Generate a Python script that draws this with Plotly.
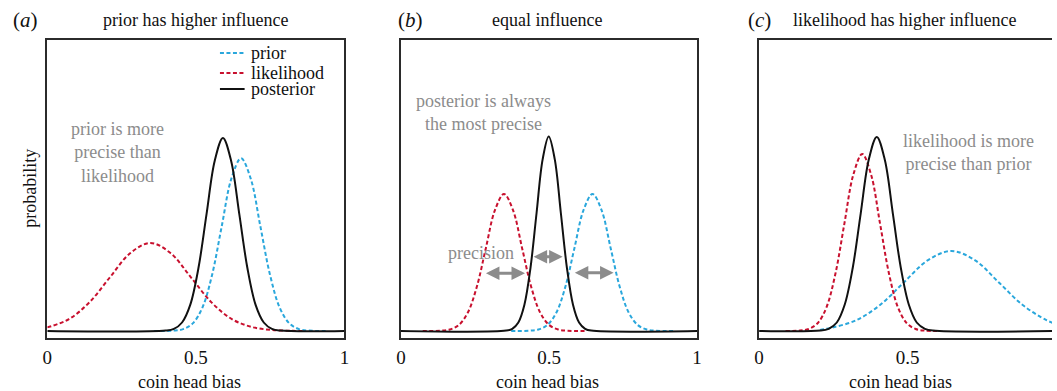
import plotly.graph_objects as go

# ---------------- data ----------------
TICK_VALS = [0, 0.5, 1]
TICK_TEXT = ["0", "0.5", "1"]

# panel (a): prior has higher influence
A_PRIOR_X = [0.3595, 0.4245, 0.457, 0.4895, 0.522, 0.5545, 0.587, 0.6195, 0.652,
             0.6845, 0.717, 0.7495, 0.782, 0.8145, 0.847, 0.8795, 0.9445]
A_PRIOR_Y = [0, 0.4, 1.9, 7.6, 23.4, 56.1, 104.7, 152.4, 172.7,
             152.4, 104.7, 56.1, 23.4, 7.6, 1.9, 0.4, 0]
A_LIK_X = [0, 0.073, 0.1415, 0.21, 0.2785, 0.347, 0.4155, 0.484, 0.5525,
           0.621, 0.6895, 0.758, 0.8265, 0.86]
A_LIK_Y = [3.6, 11.9, 28.6, 53.4, 77.7, 88, 77.7, 53.4, 28.6, 11.9, 3.9, 1.0, 0.2, 0]
A_POST_X = [0, 0.3985, 0.426, 0.4535, 0.481, 0.5085, 0.536, 0.5635, 0.591,
            0.6185, 0.646, 0.6735, 0.701, 0.7285, 0.756, 0.7835, 1]
A_POST_Y = [0, 0.4, 2.1, 8.5, 26.1, 62.7, 117.1, 170.3, 193,
            170.3, 117.1, 62.7, 26.1, 8.5, 2.1, 0.4, 0]

# panel (b): equal influence
B_PRIOR_X = [0.3725, 0.4335, 0.464, 0.4945, 0.525, 0.5555, 0.586, 0.6165, 0.647,
             0.6775, 0.708, 0.7385, 0.769, 0.7995, 0.83, 0.8605, 0.9215]
B_PRIOR_Y = [0, 0.3, 1.5, 6.0, 18.5, 44.5, 83.1, 120.9, 137,
             120.9, 83.1, 44.5, 18.5, 6.0, 1.5, 0.3, 0]
B_LIK_X = [0.0735, 0.1345, 0.165, 0.1955, 0.226, 0.2565, 0.287, 0.3175, 0.348,
           0.3785, 0.409, 0.4395, 0.47, 0.5005, 0.531, 0.5615, 0.6225]
B_LIK_Y = [0, 0.3, 1.5, 6.0, 18.5, 44.5, 83.1, 120.9, 137,
           120.9, 83.1, 44.5, 18.5, 6.0, 1.5, 0.3, 0]
B_POST_X = [0, 0.3555, 0.376, 0.3965, 0.417, 0.4375, 0.458, 0.4785, 0.499,
            0.5195, 0.54, 0.5605, 0.581, 0.6015, 0.622, 0.6425, 1]
B_POST_Y = [0, 0.4, 2.2, 8.5, 26.3, 63.2, 118.0, 171.6, 194.5,
            171.6, 118.0, 63.2, 26.3, 8.5, 2.2, 0.4, 0]

# precision arrows in panel (b): [x_start, x_end, height]
B_ARROWS = [[0.282, 0.419, 57.7], [0.443, 0.546, 74.3], [0.582, 0.718, 58.3]]

# panel (c): likelihood has higher influence
C_PRIOR_X = [0.205, 0.247, 0.327, 0.407, 0.487, 0.567, 0.647, 0.727, 0.807, 0.887, 0.967, 1.0]
C_PRIOR_Y = [1.0, 3.5, 10.8, 26.0, 48.5, 70.6, 80, 70.6, 48.5, 26.0, 10.8, 7.0]
C_LIK_X = [0.089, 0.137, 0.167, 0.197, 0.227, 0.257, 0.287, 0.317, 0.347,
           0.377, 0.407, 0.437, 0.467, 0.497, 0.527, 0.557, 0.599]
C_LIK_Y = [0, 0.4, 2.0, 7.8, 23.9, 57.5, 107.4, 156.2, 177,
           156.2, 107.4, 57.5, 23.9, 7.8, 2.0, 0.4, 0]
C_POST_X = [0, 0.2075, 0.234, 0.2615, 0.288, 0.315, 0.342, 0.369, 0.396,
            0.423, 0.45, 0.477, 0.504, 0.5305, 0.558, 0.585, 1]
C_POST_Y = [0, 0.4, 2.2, 8.5, 26.2, 63.0, 117.7, 171.2, 194,
            171.2, 117.7, 63.0, 26.2, 8.5, 2.2, 0.4, 0]

PANEL_LABELS = ["(<i>a</i>)", "(<i>b</i>)", "(<i>c</i>)"]
PANEL_TITLES = ["prior has higher influence", "equal influence",
                "likelihood has higher influence"]
SERIES_NAMES = ["prior", "likelihood", "posterior"]

# ---------------- styling ----------------
W, H = 1057, 391
FONT = "Liberation Serif, 'DejaVu Serif', 'Times New Roman', serif"
BLUE = "#2AA7DC"
RED = "#C8102E"
BLACK = "#111111"
GRAY = "#8C8C8C"
BOX = "#2b2b2b"
DASH = "4px,2.5px"


def px(v, total):
    return v / total


X_DOMAINS = [[px(42.7, W), px(342.7, W)],
             [px(399.7, W), px(698.7, W)],
             [px(761.3, W), 1.0]]
Y_DOMAIN = [1 - 338.3 / H, 1 - 40 / H]
Y_RANGE = [-7.3, 291]
X_RANGES = [[0, 1], [0, 1], [0, (1057 - 761.3) / 300]]

fig = go.Figure()

panels = [
    (A_PRIOR_X, A_PRIOR_Y, A_LIK_X, A_LIK_Y, A_POST_X, A_POST_Y),
    (B_PRIOR_X, B_PRIOR_Y, B_LIK_X, B_LIK_Y, B_POST_X, B_POST_Y),
    (C_PRIOR_X, C_PRIOR_Y, C_LIK_X, C_LIK_Y, C_POST_X, C_POST_Y),
]

for i, (px_, py_, lx, ly, qx, qy) in enumerate(panels):
    xa = "x" if i == 0 else f"x{i+1}"
    ya = "y" if i == 0 else f"y{i+1}"
    fig.add_trace(go.Scatter(x=px_, y=py_, mode="lines", name=SERIES_NAMES[0],
                             line=dict(color=BLUE, width=2, dash=DASH, shape="spline"),
                             xaxis=xa, yaxis=ya, showlegend=False))
    fig.add_trace(go.Scatter(x=lx, y=ly, mode="lines", name=SERIES_NAMES[1],
                             line=dict(color=RED, width=2, dash=DASH, shape="spline"),
                             xaxis=xa, yaxis=ya, showlegend=False))
    fig.add_trace(go.Scatter(x=qx, y=qy, mode="lines", name=SERIES_NAMES[2],
                             line=dict(color=BLACK, width=2, shape="spline"),
                             xaxis=xa, yaxis=ya, showlegend=False))

layout = dict(width=W, height=H, autosize=False,
              margin=dict(l=0, r=0, t=0, b=0),
              paper_bgcolor="white", plot_bgcolor="white",
              font=dict(family=FONT, color="#111", size=18),
              showlegend=False)

for i in range(3):
    xk = "xaxis" if i == 0 else f"xaxis{i+1}"
    yk = "yaxis" if i == 0 else f"yaxis{i+1}"
    ya = "y" if i == 0 else f"y{i+1}"
    xa = "x" if i == 0 else f"x{i+1}"
    layout[xk] = dict(domain=X_DOMAINS[i], range=X_RANGES[i], anchor=ya,
                      tickvals=TICK_VALS, ticktext=TICK_TEXT, ticks="",
                      showgrid=False, zeroline=False, showline=True, mirror=True,
                      linecolor=BOX, linewidth=2, ticklabelstandoff=1,
                      tickfont=dict(family=FONT, size=19, color="#111"),
                      fixedrange=True)
    layout[yk] = dict(domain=Y_DOMAIN, range=Y_RANGE, anchor=xa,
                      showticklabels=False, ticks="", showgrid=False, zeroline=False,
                      showline=True, mirror=(i < 2), linecolor=BOX, linewidth=2,
                      fixedrange=True)

fig.update_layout(**layout)

ann = []
# panel labels and titles
label_x = [21, 409, 762]
title_x = [192, 547.5, 908.5]
for i in range(3):
    ann.append(dict(xref="paper", yref="paper", x=label_x[i] / W, y=1 - 20 / H,
                    text=PANEL_LABELS[i], showarrow=False, xanchor="center", yanchor="middle",
                    font=dict(family=FONT, size=21, color="#111")))
    ann.append(dict(xref="paper", yref="paper", x=title_x[i] / W, y=1 - 20 / H,
                    text=PANEL_TITLES[i], showarrow=False, xanchor="center", yanchor="middle",
                    font=dict(family=FONT, size=18, color="#111")))
# x axis titles
for xc in [186, 548, 904]:
    ann.append(dict(xref="paper", yref="paper", x=xc / W, y=1 - 382 / H,
                    text="coin head bias", showarrow=False, xanchor="center", yanchor="middle",
                    font=dict(family=FONT, size=18, color="#111")))
# y axis title
ann.append(dict(xref="paper", yref="paper", x=25 / W, y=1 - 188 / H,
                text="probability", textangle=-90, showarrow=False,
                xanchor="center", yanchor="middle",
                font=dict(family=FONT, size=18, color="#111")))

# gray notes
ann.append(dict(xref="paper", yref="paper", x=114 / W, y=1 - 153 / H,
                text="prior is more<br>precise than<br>likelihood", showarrow=False,
                xanchor="center", yanchor="middle", align="center",
                font=dict(family=FONT, size=18, color=GRAY)))
ann.append(dict(xref="paper", yref="paper", x=483 / W, y=1 - 112 / H,
                text="posterior is always<br>the most precise", showarrow=False,
                xanchor="center", yanchor="middle", align="center",
                font=dict(family=FONT, size=18, color=GRAY)))
ann.append(dict(xref="paper", yref="paper", x=481 / W, y=1 - 253 / H,
                text="precision", showarrow=False,
                xanchor="center", yanchor="middle",
                font=dict(family=FONT, size=18, color=GRAY)))
ann.append(dict(xref="paper", yref="paper", x=973 / W, y=1 - 152.5 / H,
                text="likelihood is more<br>precise than prior", showarrow=False,
                xanchor="center", yanchor="middle", align="center",
                font=dict(family=FONT, size=18, color=GRAY)))

# precision arrows
for x0, x1, h in B_ARROWS:
    ann.append(dict(xref="x2", yref="y2", axref="x2", ayref="y2",
                    x=x1, y=h, ax=x0, ay=h, text="", showarrow=True,
                    arrowhead=2, startarrowhead=2, arrowside="end+start",
                    arrowsize=0.9, startarrowsize=0.9, arrowwidth=3,
                    arrowcolor=GRAY, standoff=0, startstandoff=0))

# legend in panel (a)
legend_y = [331 - 53, 331 - 73, 331 - 89]
legend_cols = [BLUE, RED, BLACK]
legend_dash = [DASH, DASH, "solid"]
shapes = []
for name, ly_, col, dsh in zip(SERIES_NAMES, legend_y, legend_cols, legend_dash):
    shapes.append(dict(type="line", xref="x", yref="y", x0=0.581, x1=0.664, y0=ly_, y1=ly_,
                       line=dict(color=col, width=2, dash=dsh)))
    ann.append(dict(xref="x", yref="y", x=0.678, y=ly_, text=name, showarrow=False,
                    xanchor="left", yanchor="middle",
                    font=dict(family=FONT, size=18, color="#111")))

fig.update_layout(annotations=ann, shapes=shapes)
fig.write_html("out.html")
